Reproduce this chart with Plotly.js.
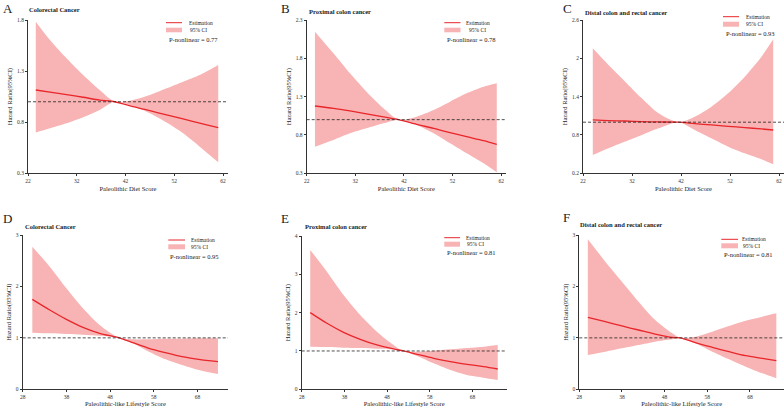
<!DOCTYPE html>
<html>
<head>
<meta charset="utf-8">
<script src="https://cdn.plot.ly/plotly-3.0.1.min.js"></script>
<style>html,body{margin:0;padding:0;background:#fff;}#chart{width:784px;height:407px;}</style>
</head>
<body>
<div id="chart"></div>
<script>
// ---------- Data ----------
// Panel A: Colorectal Cancer, Paleolithic Diet Score
const scoreA = [23.6, 26.5, 29.9, 33.3, 36.7, 39.8, 43.5, 47.0, 50.4, 53.8, 57.2, 61.0];
const estA   = [1.115, 1.094, 1.070, 1.044, 1.017, 1.0, 0.952, 0.913, 0.871, 0.832, 0.790, 0.747];
const lowA   = [0.698, 0.740, 0.789, 0.848, 0.920, 1.0, 0.959, 0.887, 0.796, 0.691, 0.561, 0.408];
const upA    = [1.784, 1.604, 1.425, 1.262, 1.115, 1.0, 1.017, 1.066, 1.131, 1.197, 1.262, 1.360];
// Panel B: Proximal colon cancer, Paleolithic Diet Score
const scoreB = [23.7, 27.5, 30.9, 34.3, 37.8, 40.9, 44.6, 48.1, 51.5, 54.9, 58.4, 61.1];
const estB   = [1.178, 1.148, 1.113, 1.074, 1.035, 1.0, 0.939, 0.887, 0.830, 0.778, 0.726, 0.678];
const lowB   = [0.648, 0.735, 0.822, 0.887, 0.952, 1.0, 0.930, 0.822, 0.691, 0.561, 0.430, 0.313];
const upB    = [2.148, 1.865, 1.604, 1.365, 1.148, 1.0, 1.039, 1.126, 1.235, 1.343, 1.430, 1.474];
// Panel C: Distal colon and rectal cancer, Paleolithic Diet Score
const scoreC = [24.0, 27.2, 30.6, 34.0, 37.4, 41.5, 44.8, 48.2, 51.6, 55.0, 58.4, 60.8];
const estC   = [1.035, 1.024, 1.019, 1.009, 1.004, 1.0, 0.977, 0.957, 0.936, 0.915, 0.894, 0.878];
const lowC   = [0.487, 0.591, 0.696, 0.800, 0.904, 1.0, 0.878, 0.748, 0.617, 0.513, 0.419, 0.341];
const upC    = [2.157, 1.896, 1.635, 1.374, 1.139, 1.0, 1.087, 1.243, 1.452, 1.713, 2.026, 2.297];
// Panel D: Colorectal Cancer, Paleolithic-like Lifestyle Score
const scoreD = [30.2, 34.2, 38.0, 41.8, 45.6, 50.1, 53.2, 56.9, 60.7, 64.5, 68.3, 72.7];
const estD   = [1.749, 1.542, 1.360, 1.205, 1.088, 1.0, 0.907, 0.797, 0.712, 0.635, 0.583, 0.537];
const lowD   = [1.101, 1.088, 1.075, 1.062, 1.043, 1.0, 0.894, 0.732, 0.583, 0.472, 0.375, 0.297];
const upD    = [2.773, 2.384, 1.963, 1.574, 1.250, 1.0, 0.972, 0.972, 0.984, 0.984, 0.991, 0.991];
// Panel E: Proximal colon cancer, Paleolithic-like Lifestyle Score
const scoreE = [30.0, 33.9, 37.8, 41.7, 45.6, 49.5, 51.8, 55.0, 58.9, 62.8, 66.7, 70.6, 73.9];
const estE   = [2.0, 1.722, 1.487, 1.304, 1.157, 1.052, 1.0, 0.913, 0.809, 0.722, 0.652, 0.591, 0.530];
const lowE   = [1.113, 1.104, 1.087, 1.078, 1.061, 1.043, 1.0, 0.870, 0.678, 0.504, 0.374, 0.304, 0.243];
const upE    = [3.635, 3.070, 2.461, 1.939, 1.504, 1.157, 1.0, 0.983, 1.009, 1.043, 1.078, 1.113, 1.157];
// Panel F: Distal colon and rectal cancer, Paleolithic-like Lifestyle Score
const scoreF = [30.0, 34.1, 38.0, 41.9, 45.8, 49.8, 51.7, 55.2, 59.2, 63.1, 67.0, 70.9, 74.2];
const estF   = [1.399, 1.315, 1.231, 1.153, 1.075, 1.010, 1.0, 0.907, 0.816, 0.732, 0.654, 0.602, 0.557];
const lowF   = [0.667, 0.732, 0.797, 0.861, 0.926, 0.972, 1.0, 0.894, 0.732, 0.583, 0.440, 0.310, 0.213];
const upF    = [2.916, 2.482, 2.093, 1.704, 1.347, 1.088, 1.0, 1.023, 1.121, 1.231, 1.334, 1.412, 1.477];

// Labels and ticks
const panelLetters = ["A", "B", "C", "D", "E", "F"];
const panelTitles = ["Colorectal Cancer", "Proximal colon cancer", "Distal colon and rectal cancer",
                     "Colorectal Cancer", "Proximal colon cancer", "Distal colon and rectal cancer"];
const pNonlinear = ["0.77", "0.78", "0.93", "0.95", "0.81", "0.81"];
const xTitles = ["Paleolithic Diet Score", "Paleolithic Diet Score", "Paleolithic Diet Score",
                 "Paleolithic-like Lifestyle Score", "Paleolithic-like Lifestyle Score", "Paleolithic-like Lifestyle Score"];
const yTitle = "Hazard Ratio(95%CI)";
const xTicksTop = [22, 32, 42, 52, 62];
const xTicksBottom = [28, 38, 48, 58, 68];
const yTicksA = [0.3, 0.8, 1.3, 1.8];
const yTicksB = [0.3, 0.8, 1.3, 1.8, 2.3];
const yTicksC = [0.2, 0.8, 1.4, 2.0, 2.6];
const yTicksD = [0, 1, 2, 3];
const yTicksE = [0, 1, 2, 3, 4];
const yTicksF = [0, 1, 2, 3];
const legendLabels = ["Estimation", "95% CI"];

// ---------- Styling / layout ----------
const W = 784, H = 407;
const FONT = "'Liberation Serif', 'Times New Roman', serif";
const RED = "#e8262b";
const PINK = "rgb(248,180,180)";
const AX = "#333";
const px = x => x / W;
const py = y => 1 - y / H;

const panels = [
  {score: scoreA, est: estA, low: lowA, up: upA, yt: yTicksA, xt: xTicksTop,
   xdom: [28, 228], ydom: [20, 173.3], xr: [22, 63],
   leg: {x0: 166, x1: 182, ly: 22.7, ry0: 27.7, ry1: 32.3, tx: 187, ctx: 188, py: 39.3, px: 167},
   title: [26.7, 10], letter: [1.5, 0], ystand: 3},
  {score: scoreB, est: estB, low: lowB, up: upB, yt: yTicksB, xt: xTicksTop,
   xdom: [306.7, 506], ydom: [20, 173.3], xr: [22, 63],
   leg: {x0: 444.3, x1: 460.5, ly: 22.7, ry0: 27.7, ry1: 32.3, tx: 464.3, ctx: 466.7, py: 39.3, px: 445},
   title: [306.7, 11.7], letter: [279.5, 0], ystand: 3},
  {score: scoreC, est: estC, low: lowC, up: upC, yt: yTicksC, xt: xTicksTop,
   xdom: [583, 784], ydom: [20, 173.3], xr: [22, 63],
   leg: {x0: 723, x1: 739, ly: 16.7, ry0: 21.7, ry1: 26.7, tx: 743.7, ctx: 744.3, py: 33.3, px: 724.3},
   title: [583, 12.3], letter: [561.5, 0], ystand: 3},
  {score: scoreD, est: estD, low: lowD, up: upD, yt: yTicksD, xt: xTicksBottom,
   xdom: [22.7, 228], ydom: [235, 389.3], xr: [28, 75],
   leg: {x0: 168.3, x1: 185, ly: 240, ry0: 244.3, ry1: 249.3, tx: 188.7, ctx: 189, py: 256.7, px: 168.3},
   title: [23.3, 226.7], letter: [1.5, 210], ystand: 3},
  {score: scoreE, est: estE, low: lowE, up: upE, yt: yTicksE, xt: xTicksBottom,
   xdom: [301.7, 506.7], ydom: [236, 389.3], xr: [28, 76],
   leg: {x0: 444.3, x1: 460, ly: 237.7, ry0: 241.7, ry1: 246.7, tx: 464, ctx: 464.7, py: 252.3, px: 445},
   title: [302.7, 226.7], letter: [279.5, 210], ystand: 3},
  {score: scoreF, est: estF, low: lowF, up: upF, yt: yTicksF, xt: xTicksBottom,
   xdom: [579.3, 784], ydom: [235, 389.3], xr: [28, 76],
   leg: {x0: 721.3, x1: 738, ly: 239.3, ry0: 243.3, ry1: 248.3, tx: 740.3, ctx: 741, py: 254.3, px: 722},
   title: [577.7, 224.3], letter: [561.5, 208.7], ystand: 3}
];

const traces = [];
const layout = {
  width: W, height: H,
  margin: {l: 0, r: 0, t: 0, b: 0, pad: 0},
  paper_bgcolor: "#fff", plot_bgcolor: "rgba(0,0,0,0)",
  showlegend: false,
  font: {family: FONT, color: "#222"},
  shapes: [], annotations: []
};

panels.forEach((p, i) => {
  const n = i + 1;
  const xa = n === 1 ? "x" : "x" + n;
  const ya = n === 1 ? "y" : "y" + n;
  traces.push({x: p.score, y: p.low, xaxis: xa, yaxis: ya, type: "scatter", mode: "lines",
    line: {width: 0, color: PINK, shape: "spline", smoothing: 0.8}, hoverinfo: "skip", name: legendLabels[1]});
  traces.push({x: p.score, y: p.up, xaxis: xa, yaxis: ya, type: "scatter", mode: "lines",
    fill: "tonexty", fillcolor: PINK,
    line: {width: 0, color: PINK, shape: "spline", smoothing: 0.8}, name: legendLabels[1]});
  traces.push({x: p.score, y: p.est, xaxis: xa, yaxis: ya, type: "scatter", mode: "lines",
    line: {width: 1.3, color: RED, shape: "spline", smoothing: 0.8}, name: legendLabels[0]});

  const axCommon = {
    showgrid: false, zeroline: false, showline: true, linecolor: AX, linewidth: 1,
    ticks: "outside", ticklen: 2, tickwidth: 1, tickcolor: AX,
    tickfont: {family: FONT, size: 5.5, color: "#333"}, automargin: false, fixedrange: true
  };
  layout["xaxis" + (n === 1 ? "" : n)] = Object.assign({}, axCommon, {
    domain: [px(p.xdom[0]), px(p.xdom[1])], anchor: ya, range: p.xr,
    tickmode: "array", tickvals: p.xt, ticktext: p.xt.map(String),
    title: {text: xTitles[i], font: {family: FONT, size: 6.5, color: "#222"}, standoff: 3}
  });
  layout["yaxis" + (n === 1 ? "" : n)] = Object.assign({}, axCommon, {
    domain: [py(p.ydom[1]), py(p.ydom[0])], anchor: xa,
    range: [p.yt[0], p.yt[p.yt.length - 1]],
    tickmode: "array", tickvals: p.yt, ticktext: p.yt.map(String),
    title: {text: yTitle, font: {family: FONT, size: 6.5, color: "#222"}, standoff: p.ystand}
  });

  // reference line at HR = 1
  layout.shapes.push({type: "line", xref: xa + " domain", yref: ya, x0: 0, x1: 1, y0: 1, y1: 1,
    line: {color: "#222", width: 0.8, dash: "3px,2px"}, layer: "above"});

  // legend symbols
  const L = p.leg;
  layout.shapes.push({type: "line", xref: "paper", yref: "paper", x0: px(L.x0), x1: px(L.x1),
    y0: py(L.ly), y1: py(L.ly), line: {color: RED, width: 1}});
  layout.shapes.push({type: "rect", xref: "paper", yref: "paper", x0: px(L.x0), x1: px(L.x1),
    y0: py(L.ry1), y1: py(L.ry0), fillcolor: PINK, line: {width: 0}});

  const ann = (text, x, y, size, extra) => Object.assign({
    text: text, xref: "paper", yref: "paper", x: px(x), y: py(y), xanchor: "left", yanchor: "middle",
    showarrow: false, font: {family: FONT, size: size, color: "#222"}
  }, extra || {});
  layout.annotations.push(ann(legendLabels[0], L.tx, L.ly, 5.5));
  layout.annotations.push(ann(legendLabels[1], L.ctx, (L.ry0 + L.ry1) / 2, 5.5));
  layout.annotations.push(ann("P-nonlinear = " + pNonlinear[i], L.px, L.py, 6.5));
  layout.annotations.push(ann("<b>" + panelTitles[i] + "</b>", p.title[0], p.title[1], 6.5));
  layout.annotations.push(ann(panelLetters[i], p.letter[0], p.letter[1], 13,
    {yanchor: "top", borderpad: 0}));
});

Plotly.newPlot("chart", traces, layout, {displayModeBar: false, staticPlot: true});
</script>
</body>
</html>
